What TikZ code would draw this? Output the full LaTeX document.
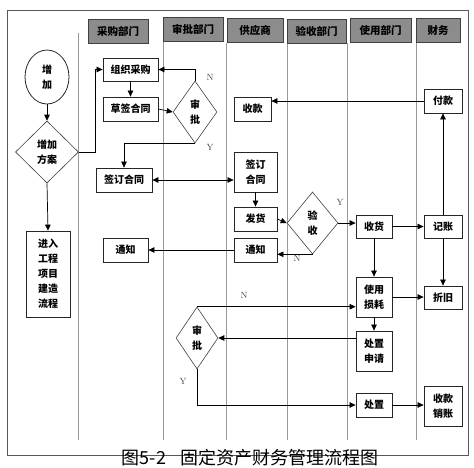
\documentclass[tikz,border=0pt]{standalone}
\usepackage{fontspec}
\newfontfamily\cjk{Noto Sans CJK SC}
\usetikzlibrary{shapes.geometric,arrows.meta}
\begin{document}
\begin{tikzpicture}[x=1pt,y=-1pt,
  arr/.style={draw=black, line width=0.7pt, -{Triangle[length=6pt,width=5.5pt]}},
  darr/.style={draw=black, line width=0.7pt, {Triangle[length=6pt,width=5.5pt]}-{Triangle[length=6pt,width=5.5pt]}},
  lane/.style={draw=black!40, line width=0.7pt},
  box/.style={draw=black!85, line width=0.8pt, fill=white, inner sep=0pt, align=center,
     font=\cjk\bfseries\fontsize{10}{15.5}\selectfont},
  dia/.style={diamond, draw=black!75, line width=0.6pt, fill=white, inner sep=0pt, align=center,
     font=\cjk\bfseries\fontsize{10}{14.5}\selectfont},
  head/.style={draw=black!75, line width=0.8pt, fill=black!45, inner sep=0pt,
     minimum height=24pt, font=\cjk\bfseries\fontsize{10.5}{12}\selectfont},
  lbl/.style={font=\fontsize{9}{10}\selectfont, text=black!75, inner sep=0pt}
]
\useasboundingbox (0,0) rectangle (474,467);
% frame
\draw[draw=black!65, line width=1pt] (7,10) rectangle (468,455);
% lanes
\draw[lane] (78,33) -- (78,440);
\draw[lane] (163,41) -- (163,440);
\draw[lane] (226,43) -- (226,440);
\draw[lane] (287,43) -- (287,440);
\draw[lane] (347,43) -- (347,440);
\draw[lane] (416,43) -- (416,440);
% headers
\node[head, minimum width=60pt] (h1) at (118,31) {采购部门};
\node[head, minimum width=60pt] (h2) at (193,29) {审批部门};
\node[head, minimum width=56pt] (h3) at (255,30.5) {供应商};
\node[head, minimum width=59pt] (h4) at (316.5,31.5) {验收部门};
\node[head, minimum width=61pt] (h5) at (380.5,30.5) {使用部门};
\node[head, minimum width=44pt] (h6) at (438,30.5) {财务};
% left lane
\node[ellipse, draw=black!85, line width=0.8pt, inner sep=0pt, minimum width=44pt, minimum height=54pt,
  align=center, font=\cjk\bfseries\fontsize{10}{15}\selectfont] (zj) at (47,77) {增\\加};
\node[dia, minimum width=63pt, minimum height=62pt] (fa) at (47,152) {增加\\方案};
\node[box, minimum width=44pt, minimum height=86pt, font=\cjk\bfseries\fontsize{10}{15}\selectfont] (jr) at (48,274) {进入\\工程\\项目\\建造\\流程};
% purchasing
\node[box, minimum width=55pt, minimum height=23pt] (zz) at (130.5,69.5) {组织采购};
\node[box, minimum width=55pt, minimum height=24pt] (cq) at (130.5,109) {草签合同};
\node[box, minimum width=56pt, minimum height=24pt] (qd1) at (124,180) {签订合同};
\node[box, minimum width=45pt, minimum height=24pt] (tz1) at (125.5,250) {通知};
% approval
\node[dia, minimum width=44pt, minimum height=62pt] (sp1) at (195,112) {审\\批};
\node[dia, minimum width=42pt, minimum height=62pt] (sp2) at (197,338) {审\\批};
% supplier
\node[box, minimum width=37pt, minimum height=24pt] (sk) at (252.5,109) {收款};
\node[box, minimum width=43pt, minimum height=40pt] (qd2) at (255.5,172) {签订\\合同};
\node[box, minimum width=43pt, minimum height=24pt] (fh) at (255.5,219) {发货};
\node[box, minimum width=43pt, minimum height=24pt] (tz2) at (255.5,250) {通知};
% acceptance
\node[dia, minimum width=51pt, minimum height=62pt] (ys) at (312.5,223) {验\\收};
% using
\node[box, minimum width=36pt, minimum height=23pt] (sh) at (374,226.5) {收货};
\node[box, minimum width=36pt, minimum height=40pt] (sy) at (374,297) {使用\\损耗};
\node[box, minimum width=36pt, minimum height=40pt] (cs) at (374,351) {处置\\申请};
\node[box, minimum width=36pt, minimum height=24pt] (cz) at (374,405) {处置};
% finance
\node[box, minimum width=38pt, minimum height=24pt] (fk) at (443,101) {付款};
\node[box, minimum width=38pt, minimum height=23pt] (jz) at (443,226.5) {记账};
\node[box, minimum width=38pt, minimum height=23pt] (zjiu) at (443,297.5) {折旧};
\node[box, minimum width=38pt, minimum height=40pt] (skxz) at (443,406) {收款\\销账};
% connectors
\draw[arr] (zj.south) -- (fa.north);
\draw[arr] (fa.south) -- (jr.north);
\coordinate (c1) at (95,152);
\draw[arr] (fa.east) -- (c1) |- (zz.west);
\draw[arr] (zz.south) -- (cq.north);
\draw[arr] (cq.east) -- (sp1.west);
\draw[arr] (sp1.north) |- (zz.east);
\draw[arr] (sp1.south) -| (qd1.north);
\draw[darr] (qd1.east) -- (qd1.east -| qd2.west);
\draw[arr] (fk.west) -- (fk.west -| sk.east);
\draw[arr] (qd2.south) -- (fh.north);
\draw[arr] (fh.east) -- (ys.west);
\draw[arr] (ys.east) -- (ys.east -| sh.west);
\draw[arr] (ys.south) -- (ys.south -| tz2.east);
\draw[arr] (tz2.west) -- (tz1.east);
\draw[arr] (sh.east) -- (jz.west);
\draw[arr] (jz.north) -- (fk.south);
\draw[arr] (jz.south) -- (zjiu.north);
\draw[arr] (sh.south) -- (sy.north);
\draw[arr] (sy.east) -- (sy.east -| zjiu.west);
\draw[arr] (sy.south) -- (cs.north);
\draw[arr] (cs.west |- sp2.east) -- (sp2.east);
\draw[arr] (sp2.north) -- (sp2.north -| sy.west);
\draw[arr] (sp2.south) |- (cz.west);
\draw[arr] (cz.east) -- (cz.east -| skxz.west);
% labels
\node[lbl] (n1) at (210,77) {N};
\node[lbl] (y1) at (210,147) {Y};
\node[lbl] (y2) at (340,202) {Y};
\node[lbl] (n2) at (297,258) {N};
\node[lbl] (n3) at (244,295) {N};
\node[lbl] (y3) at (183,381) {Y};
% caption
\node[font=\cjk\fontsize{18}{20}\selectfont, inner sep=0pt] (cap) at (250,458) {图5-2\hspace{14pt}固定资产财务管理流程图};
\end{tikzpicture}
\end{document}
